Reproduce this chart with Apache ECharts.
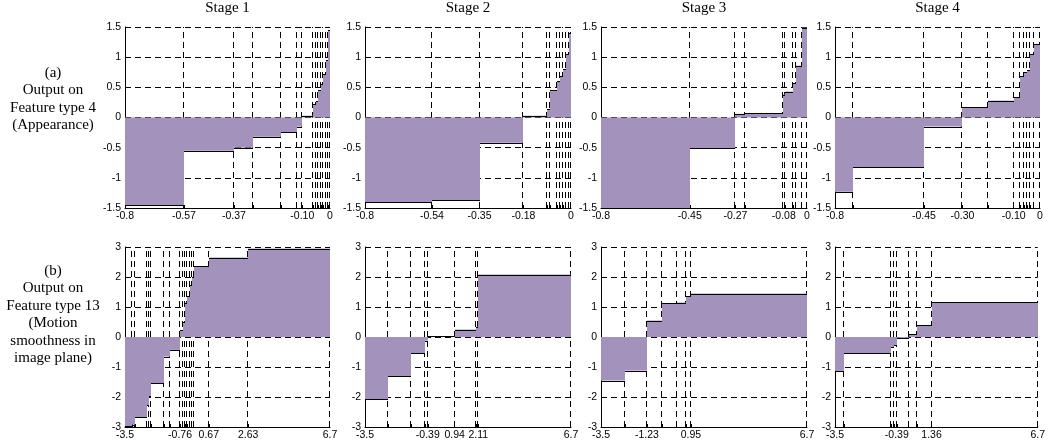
<!DOCTYPE html>
<html><head><meta charset="utf-8">
<script src="https://cdn.jsdelivr.net/npm/echarts@6/dist/echarts.min.js"></script>
<style>html,body{margin:0;padding:0;background:#fff}#c{width:1048px;height:446px}</style>
</head><body><div id="c"></div>
<script>
// ---------- DATA ----------
const stageTitles = ['Stage 1', 'Stage 2', 'Stage 3', 'Stage 4'];
const rowLabels = ['(a)\nOutput on\nFeature type 4\n(Appearance)',
                   '(b)\nOutput on\nFeature type 13\n(Motion\nsmoothness in\nimage plane)'];

// Row (a): Feature type 4
const a1Breaks = [-0.8, -0.57, -0.375, -0.30, -0.19, -0.13, -0.108, -0.065, -0.056, -0.046, -0.036, -0.026, -0.017, -0.007, 0];
const a1Values = [-1.45, -0.55, -0.50, -0.32, -0.24, -0.15, 0.03, 0.22, 0.27, 0.45, 0.55, 0.72, 0.95, 1.45];
const a1TickVals = [-0.8, -0.57, -0.375, -0.108, 0];
const a1TickText = ['-0.8', '-0.57', '-0.37', '-0.10', '0'];

const a2Breaks = [-0.8, -0.54, -0.355, -0.185, -0.092, -0.080, -0.053, -0.042, -0.031, -0.021, -0.009, 0];
const a2Values = [-1.40, -1.37, -0.42, 0.03, 0.14, 0.45, 0.60, 0.68, 0.80, 1.05, 1.40];
const a2TickVals = [-0.8, -0.54, -0.355, -0.185, 0];
const a2TickText = ['-0.8', '-0.54', '-0.35', '-0.18', '0'];

const a3Breaks = [-0.8, -0.455, -0.278, -0.241, -0.095, -0.085, -0.053, -0.044, -0.021, 0];
const a3Values = [-1.5, -0.51, 0.06, 0.07, 0.38, 0.43, 0.57, 0.86, 1.49];
const a3TickVals = [-0.8, -0.455, -0.278, -0.09, 0];
const a3TickText = ['-0.8', '-0.45', '-0.27', '-0.08', '0'];

const a4Breaks = [-0.8, -0.73, -0.453, -0.303, -0.203, -0.103, -0.077, -0.062, -0.051, -0.04, -0.025, 0];
const a4Values = [-1.23, -0.82, -0.15, 0.17, 0.28, 0.34, 0.68, 0.75, 0.78, 1.05, 1.22];
const a4TickVals = [-0.8, -0.453, -0.303, -0.103, 0];
const a4TickText = ['-0.8', '-0.45', '-0.30', '-0.10', '0'];

// Row (b): Feature type 13
const b1Breaks = [-3.5, -3.13, -3.0, -2.43, -2.33, -2.21, -1.54, -1.26, -0.76, -0.63, -0.51, -0.41, -0.29, -0.18, -0.08, 0.67, 2.63, 6.7];
const b1Values = [-2.97, -2.92, -2.68, -2.27, -1.98, -1.54, -0.65, -0.43, 0.22, 0.50, 1.15, 1.37, 1.73, 2.0, 2.37, 2.65, 2.95];
const b1TickVals = [-3.5, -0.76, 0.67, 2.63, 6.7];
const b1TickText = ['-3.5', '-0.76', '0.67', '2.63', '6.7'];

const b2Breaks = [-3.5, -2.37, -1.23, -0.52, -0.39, 0.94, 2.0, 2.11, 6.7];
const b2Values = [-2.07, -1.31, -0.54, -0.12, 0.03, 0.25, 0.35, 2.08];
const b2TickVals = [-3.5, -0.39, 0.94, 2.11, 6.7];
const b2TickText = ['-3.5', '-0.39', '0.94', '2.11', '6.7'];

const b3Breaks = [-3.5, -2.32, -1.23, -0.47, 0.25, 0.70, 0.95, 6.7];
const b3Values = [-1.45, -1.12, 0.55, 1.12, 1.15, 1.36, 1.45];
const b3TickVals = [-3.5, -1.23, 0.95, 6.7];
const b3TickText = ['-3.5', '-1.23', '0.95', '6.7'];

const b4Breaks = [-3.5, -3.04, -0.66, -0.51, -0.39, 0.20, 0.65, 1.36, 6.7];
const b4Values = [-1.13, -0.54, -0.33, -0.27, -0.03, 0.10, 0.40, 1.17];
const b4TickVals = [-3.5, -0.39, 1.36, 6.7];
const b4TickText = ['-3.5', '-0.39', '1.36', '6.7'];

// ---------- LAYOUT ----------
const panels = [
  {b: a1Breaks, v: a1Values, tv: a1TickVals, tt: a1TickText, row: 0, col: 0},
  {b: a2Breaks, v: a2Values, tv: a2TickVals, tt: a2TickText, row: 0, col: 1},
  {b: a3Breaks, v: a3Values, tv: a3TickVals, tt: a3TickText, row: 0, col: 2},
  {b: a4Breaks, v: a4Values, tv: a4TickVals, tt: a4TickText, row: 0, col: 3},
  {b: b1Breaks, v: b1Values, tv: b1TickVals, tt: b1TickText, row: 1, col: 0},
  {b: b2Breaks, v: b2Values, tv: b2TickVals, tt: b2TickText, row: 1, col: 1},
  {b: b3Breaks, v: b3Values, tv: b3TickVals, tt: b3TickText, row: 1, col: 2},
  {b: b4Breaks, v: b4Values, tv: b4TickVals, tt: b4TickText, row: 1, col: 3}
];
const colLeft = [125, 365, 601, 835];
const colW = [205, 206, 206, 205];
const rowTop = [27, 247];
const rowH = [181, 180];
const yRanges = [{min: -1.5, max: 1.5, interval: 0.5}, {min: -3, max: 3, interval: 1}];
const xRanges = [{min: -0.8, max: 0}, {min: -3.5, max: 6.7}];

const FILL = 'rgb(163,147,188)';
const SANS = 'Liberation Sans, Arial, sans-serif';
const SERIF = 'Liberation Serif, Times New Roman, serif';
const DASH = [6, 4];

const grids = [], xAxes = [], yAxes = [], series = [];
panels.forEach((p, i) => {
  const yr = yRanges[p.row], xr = xRanges[p.row];
  grids.push({left: colLeft[p.col], top: rowTop[p.row], width: colW[p.col], height: rowH[p.row], containLabel: false});
  xAxes.push({
    gridIndex: i, type: 'value', min: xr.min, max: xr.max,
    axisLine: {show: true, onZero: false, lineStyle: {color: '#000', width: 1}},
    axisTick: {show: true, inside: true, length: 3, customValues: p.b.slice(1, -1), lineStyle: {color: '#000'}},
    axisLabel: {
      show: true, customValues: p.tv, margin: 3, fontSize: 10.5, fontFamily: SANS, color: '#000',
      formatter: (val) => { const k = p.tv.indexOf(val); return k >= 0 ? p.tt[k] : ''; }
    },
    splitLine: {show: false}
  });
  yAxes.push({
    gridIndex: i, type: 'value', min: yr.min, max: yr.max, interval: yr.interval,
    axisLine: {show: true, onZero: false, lineStyle: {color: '#000', width: 1}},
    axisTick: {show: true, inside: true, length: 3, lineStyle: {color: '#000'}},
    axisLabel: {margin: 4, fontSize: 10.5, fontFamily: SANS, color: '#000'},
    splitLine: {show: true, lineStyle: {color: '#000', width: 1, type: DASH}}
  });
  // vertical dashed lines at breakpoints
  series.push({
    type: 'custom', xAxisIndex: i, yAxisIndex: i, z: 1, silent: true, clip: false,
    data: p.b.slice(1).map(x => [x]),
    encode: {x: 0},
    renderItem: (params, api) => {
      const x = api.value(0);
      const t = api.coord([x, yr.max]);
      const bt = api.coord([x, yr.min]);
      const px = Math.round(t[0]) - 0.5;
      return {type: 'line', shape: {x1: px, y1: bt[1], x2: px, y2: t[1]},
              style: {stroke: '#000', lineWidth: 1, lineDash: DASH}};
    }
  });
  // step fill + black step tops
  series.push({
    type: 'custom', xAxisIndex: i, yAxisIndex: i, z: 3, silent: true, clip: true,
    data: p.v.map((val, k) => [p.b[k], p.b[k + 1], val]),
    encode: {x: [0, 1], y: 2},
    renderItem: (params, api) => {
      const x0 = api.value(0), x1 = api.value(1), v = api.value(2);
      const p0 = api.coord([x0, 0]);
      const p1 = api.coord([x1, v]);
      const left = Math.round(p0[0]), right = Math.round(p1[0]);
      const yz = p0[1], yv = p1[1];
      return {type: 'group', children: [
        {type: 'rect', shape: {x: left, y: Math.min(yz, yv), width: right - left, height: Math.abs(yz - yv)},
         style: {fill: FILL}},
        {type: 'line', shape: {x1: left, y1: Math.round(yv) + 0.5, x2: right, y2: Math.round(yv) + 0.5},
         style: {stroke: '#000', lineWidth: 1}}
      ]};
    }
  });
});

const graphics = [];
stageTitles.forEach((t, c) => {
  graphics.push({type: 'text', x: colLeft[c] + colW[c] / 2, y: 8,
    style: {text: t, textAlign: 'center', textVerticalAlign: 'middle', fill: '#000',
            font: '15px ' + SERIF}});
});
const labelTops = [64, 262];
rowLabels.forEach((t, r) => {
  graphics.push({type: 'text', x: 53, y: labelTops[r],
    style: {text: t, textAlign: 'center', textVerticalAlign: 'top', fill: '#000',
            font: '15px ' + SERIF, lineHeight: 17.5}});
});

const chart = echarts.init(document.getElementById('c'), null, {renderer: 'canvas'});
chart.setOption({
  animation: false,
  backgroundColor: '#fff',
  grid: grids, xAxis: xAxes, yAxis: yAxes, series: series,
  graphic: graphics
});
</script></body></html>
